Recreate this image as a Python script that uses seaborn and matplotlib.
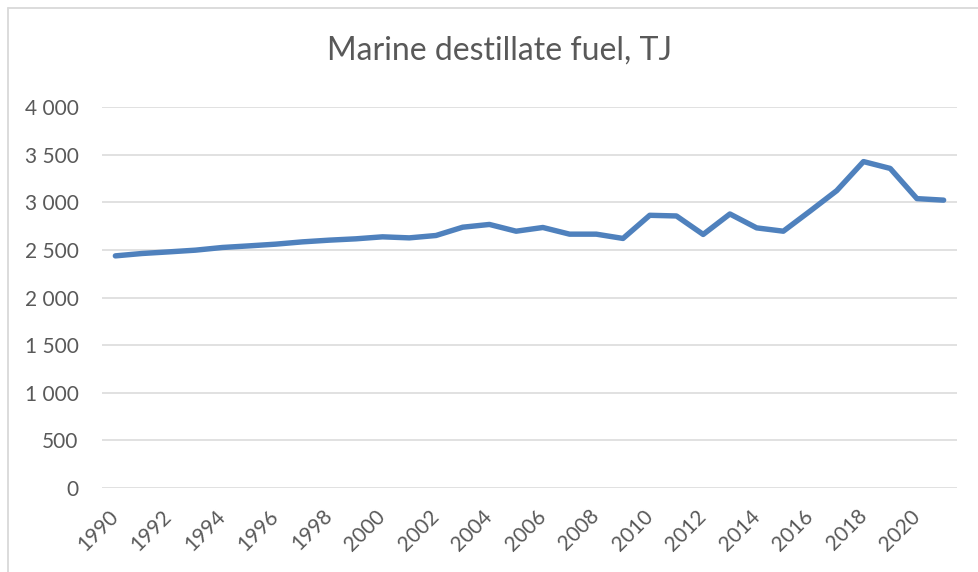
import pandas as pd
import matplotlib
matplotlib.use("Agg")
import matplotlib.pyplot as plt
import seaborn as sns
from matplotlib.ticker import FuncFormatter
from matplotlib.lines import Line2D

years = list(range(1990, 2022))
fuel_tj = [2437, 2462, 2479, 2497, 2525, 2542, 2560, 2584, 2602, 2616,
           2637, 2626, 2651, 2738, 2767, 2696, 2735, 2665, 2665, 2620,
           2863, 2856, 2662, 2877, 2731, 2696, 2907, 3122, 3427, 3355,
           3038, 3022]
tick_years = list(range(1990, 2021, 2))
title = "Marine destillate fuel, TJ"

df = pd.DataFrame({"year": years, "TJ": fuel_tj})

sns.set_style("white")
plt.rcParams["font.family"] = ["Lato", "DejaVu Sans"]
txt = "#595959"
grid = "#D9D9D9"

fig = plt.figure(figsize=(9.79, 5.72), dpi=100)
W, H = 979, 572
ax = fig.add_axes([102 / W, (H - 488) / H, (957 - 102) / W, (488 - 107) / H])

sns.lineplot(data=df, x="year", y="TJ", ax=ax, color="#4F81BD",
             linewidth=3.9, solid_capstyle="round", solid_joinstyle="round",
             zorder=3)

ax.set_xlim(1989.5, 2021.5)
ax.set_ylim(0, 4000)
ax.set_yticks(range(0, 4001, 500))
ax.yaxis.set_major_formatter(FuncFormatter(lambda v, p: f"{int(v):,}".replace(",", " ")))
ax.set_xticks(tick_years)
ax.set_xticklabels([str(y) for y in tick_years], rotation=45, ha="right",
                   va="center", rotation_mode="anchor")
ax.grid(axis="y", color=grid, linewidth=1.1, zorder=0)
ax.set_axisbelow(True)
for s in ax.spines.values():
    s.set_visible(False)
ax.tick_params(axis="both", length=0, labelsize=15, colors=txt)
ax.tick_params(axis="y", pad=17)
ax.tick_params(axis="x", pad=18)
ax.set_xlabel("")
ax.set_ylabel("")

fig.text(500 / W, 1 - 51 / H, title, ha="center", va="center",
         fontsize=23, color=txt)

# chart border (only top and left visible in the crop)
fig.add_artist(Line2D([8 / W, 1], [1 - 8 / H, 1 - 8 / H], color=grid, lw=1.3,
                      transform=fig.transFigure))
fig.add_artist(Line2D([8 / W, 8 / W], [0, 1 - 8 / H], color=grid, lw=1.3,
                      transform=fig.transFigure))

fig.savefig("out.png", dpi=100, facecolor="white")
